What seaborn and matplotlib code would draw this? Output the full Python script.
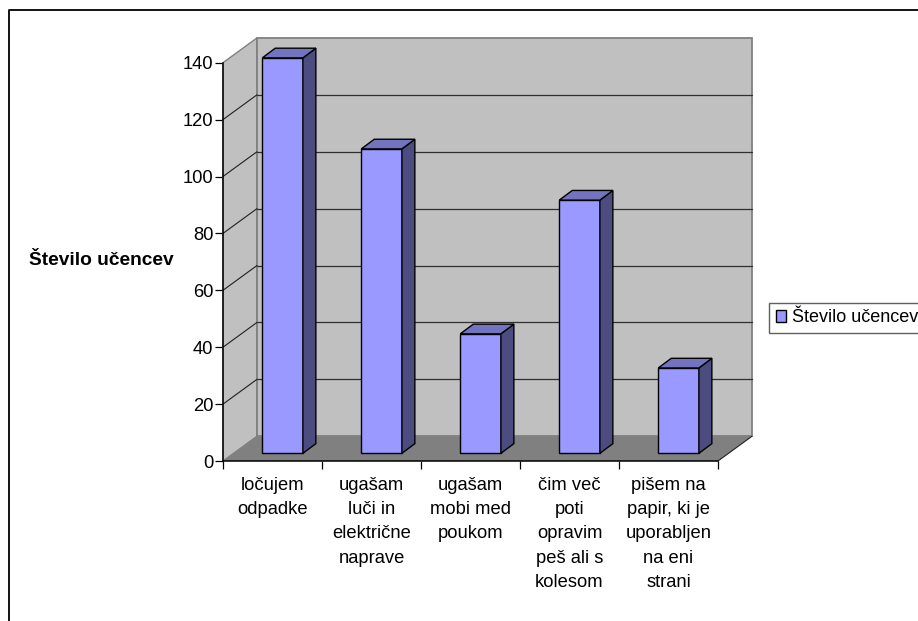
import matplotlib
matplotlib.use("Agg")
import matplotlib.pyplot as plt
from matplotlib.lines import Line2D
from matplotlib.patches import Patch
import pandas as pd
import seaborn as sns

categories = [
    "ločujem\nodpadke",
    "ugašam\nluči in\nelektrične\nnaprave",
    "ugašam\nmobi med\npoukom",
    "čim več\npoti\nopravim\npeš ali s\nkolesom",
    "pišem na\npapir, ki je\nuporabljen\nna eni\nstrani",
]
students = [139, 107, 42, 89, 30]
series_name = "Število učencev"
y_ticks = [0, 20, 40, 60, 80, 100, 120, 140]

FACE = "#9999FF"
SIDE = "#4C4C80"
TOP = "#7373BF"
WALL = "#C0C0C0"
FLOOR = "#808080"
TEXT_SIZE = 13.2

# Depth of the box and of the columns, in data units (x: categories, y: counts)
WALL_DX, WALL_DY = 0.343, 8.7
BAR_DX, BAR_DY = 0.102, 2.7
COL_DX, COL_DY = 0.131, 3.4

sns.set_theme(style="white")
plt.rcParams["font.family"] = ["Liberation Sans", "DejaVu Sans"]
plt.rcParams["font.size"] = TEXT_SIZE

fig = plt.figure(figsize=(9.18, 6.21), dpi=100)
ax = fig.add_axes([223 / 918, 1 - 461 / 621, 495 / 918, 398.3 / 621])
ax.patch.set_alpha(0)

frame = pd.DataFrame({"category": categories, "students": students})
sns.barplot(data=frame, x="category", y="students", color=FACE, saturation=1,
            width=0.41, edgecolor="black", linewidth=1.0, zorder=5, ax=ax)
ax.set_xlim(-0.5, 4.5)
ax.set_ylim(0, 140)

x0, x1 = -0.5, 4.5
y0, y1 = 0, 140

# Box walls and floor
ax.fill([x0, x0 + WALL_DX, x0 + WALL_DX, x0], [y0, y0 + WALL_DY, y1 + WALL_DY, y1],
        facecolor=WALL, edgecolor=FLOOR, linewidth=1.0, clip_on=False, zorder=1)
ax.fill([x0 + WALL_DX, x1 + WALL_DX, x1 + WALL_DX, x0 + WALL_DX],
        [y0 + WALL_DY, y0 + WALL_DY, y1 + WALL_DY, y1 + WALL_DY],
        facecolor=WALL, edgecolor=FLOOR, linewidth=1.3, clip_on=False, zorder=1)
for value in y_ticks[1:-1]:
    ax.plot([x0, x0 + WALL_DX], [value, value + WALL_DY], color="#202020", lw=0.8,
            clip_on=False, zorder=2)
    ax.plot([x0 + WALL_DX, x1 + WALL_DX], [value + WALL_DY] * 2, color="#303030", lw=0.9,
            clip_on=False, zorder=2)
ax.fill([x0, x1, x1 + WALL_DX, x0 + WALL_DX], [y0, y0, y0 + WALL_DY, y0 + WALL_DY],
        facecolor=FLOOR, edgecolor="none", clip_on=False, zorder=3)
ax.plot([x1, x1 + WALL_DX], [y0, y0 + WALL_DY], color="#202020", lw=0.8, clip_on=False, zorder=3)

# Columns: shift the fronts into the box, then add the side and top faces
for bar in ax.patches:
    if bar.get_zorder() != 5:
        continue
    bar.set_x(bar.get_x() + BAR_DX)
    bar.set_y(bar.get_y() + BAR_DY)
    bar.set_clip_on(False)
    left = bar.get_x()
    right = left + bar.get_width()
    base = bar.get_y()
    top = base + bar.get_height()
    ax.fill([right, right + COL_DX, right + COL_DX, right],
            [base, base + COL_DY, top + COL_DY, top],
            facecolor=SIDE, edgecolor="black", linewidth=1.0, clip_on=False, zorder=5)
    ax.fill([left, right, right + COL_DX, left + COL_DX],
            [top, top, top + COL_DY, top + COL_DY],
            facecolor=TOP, edgecolor="black", linewidth=1.0, clip_on=False, zorder=5)

# Axes, ticks and labels
sns.despine(ax=ax, top=True, right=True)
for side in ("left", "bottom"):
    ax.spines[side].set_color("black")
    ax.spines[side].set_linewidth(1.1)
    ax.spines[side].set_zorder(6)
ax.set_yticks(y_ticks)
ax.tick_params(axis="y", which="major", left=True, length=5.5, width=0.9, color="black",
               labelsize=TEXT_SIZE, labelcolor="black", pad=1.5)
ax.set_xticks(range(len(categories)))
ax.set_xticklabels(categories, linespacing=1.57, fontsize=TEXT_SIZE, color="black")
ax.set_xticks([i - 0.5 for i in range(len(categories) + 1)], minor=True)
ax.tick_params(axis="x", which="major", bottom=False, pad=5.2)
ax.tick_params(axis="x", which="minor", bottom=True, length=5.5, width=0.9, color="black")
ax.set_xlabel("")
ax.set_ylabel("")
fig.text(101.7 / 918, 1 - 260.5 / 621, series_name, ha="center", va="center",
         fontsize=13.8, fontweight="bold", color="black")

# The legend frame continues past the right edge of the chart area
ax.legend(handles=[Patch(facecolor=FACE, edgecolor="black", linewidth=1.0, label=series_name)],
          loc="upper left", bbox_to_anchor=(769 / 918, 1 - 302.7 / 621),
          bbox_transform=fig.transFigure, fancybox=False, framealpha=1, edgecolor="#606060",
          fontsize=13.0, handlelength=0.6, handleheight=0.6, handletextpad=0.33,
          borderaxespad=0, borderpad=0.36, labelcolor="black")

# Chart-area border: top and left edges only
fig.add_artist(Line2D([8.5 / 918, 8.5 / 918, 1], [0, 1 - 9.5 / 621, 1 - 9.5 / 621],
                      color="black", lw=1.3))

fig.savefig("out.png", dpi=100)
